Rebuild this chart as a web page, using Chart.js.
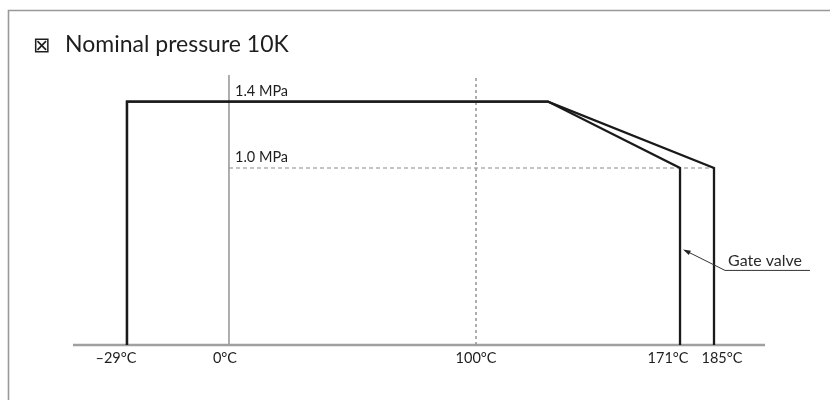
<!DOCTYPE html>
<html>
<head>
<meta charset="utf-8">
<script src="https://cdn.jsdelivr.net/npm/chart.js@4/dist/chart.umd.min.js"></script>
<style>
  html, body { margin: 0; padding: 0; background: #fff; }
  #wrap { width: 830px; height: 400px; position: relative; }
</style>
</head>
<body>
<div id="wrap"><canvas id="c" width="830" height="400"></canvas></div>
<script>
// ---- data ----
const titleSymbol = '\u22A0';
const titleText = 'Nominal pressure 10K';
const tickTemps = [-29, 0, 100, 171, 185];
const tickLabels = ['\u201329\u00B0C', '0\u00B0C', '100\u00B0C', '171\u00B0C', '185\u00B0C'];
const pressureLevels = [1.4, 1.0];
const pressureLabels = ['1.4 MPa', '1.0 MPa'];
// Gate valve rating (ends at 171 °C)
const gateTemps = [-29, -29, 120, 171, 171];
const gatePressure = [0, 1.4, 1.4, 1.0, 0];
// other valve rating (ends at 185 °C)
const otherTemps = [-29, -29, 120, 185, 185];
const otherPressure = [0, 1.4, 1.4, 1.0, 0];
const gateLabel = 'Gate valve';
const gateArrowPressure = 0.54;

// ---- schematic (piecewise-linear) scale ----
class PiecewiseScale extends Chart.LinearScale {
  _toDecimal(v) {
    const a = this.options.anchors;
    if (v <= a[0][0]) return a[0][1] + (v - a[0][0]) * (a[1][1] - a[0][1]) / (a[1][0] - a[0][0]);
    for (let i = 1; i < a.length; i++) {
      if (v <= a[i][0] || i === a.length - 1) {
        const [v0, f0] = a[i - 1], [v1, f1] = a[i];
        return f0 + (v - v0) * (f1 - f0) / (v1 - v0);
      }
    }
  }
  getPixelForValue(value) {
    return this.getPixelForDecimal(this._toDecimal(value));
  }
  getValueForPixel(pixel) {
    const d = this.getDecimalForPixel(pixel);
    const a = this.options.anchors;
    for (let i = 1; i < a.length; i++) {
      if (d <= a[i][1] || i === a.length - 1) {
        const [v0, f0] = a[i - 1], [v1, f1] = a[i];
        return v0 + (d - f0) * (v1 - v0) / (f1 - f0);
      }
    }
  }
}
PiecewiseScale.id = 'piecewise';
PiecewiseScale.defaults = Chart.LinearScale.defaults;
Chart.register(PiecewiseScale);

const toPts = (xs, ys) => xs.map((x, i) => ({ x, y: ys[i] }));
const X_MIN = -44, X_MAX = 205, Y_MIN = 0, Y_MAX = 1.56;

const BLACK = '#1a1a1a';
const GREY = '#9a9a9a';

const decorPlugin = {
  id: 'decor',
  beforeDatasetsDraw(chart) {
    const ctx = chart.ctx, xs = chart.scales.x, ys = chart.scales.y;
    const ca = chart.chartArea;
    ctx.save();
    // outer frame (top + left)
    ctx.strokeStyle = '#999';
    ctx.lineWidth = 1.6;
    ctx.beginPath();
    ctx.moveTo(8.5, 400);
    ctx.lineTo(8.5, 10.5);
    ctx.lineTo(830, 10.5);
    ctx.stroke();
    // title
    ctx.fillStyle = '#1e1e1e';
    ctx.textBaseline = 'alphabetic';
    ctx.textAlign = 'left';
    ctx.font = '21px "DejaVu Sans"';
    ctx.fillText(titleSymbol, 33, 52);
    ctx.font = '23px Lato';
    ctx.fillText(titleText, 65, 52);
    // horizontal axis line
    const y0 = ys.getPixelForValue(0);
    ctx.strokeStyle = '#a0a0a0';
    ctx.lineWidth = 2.5;
    ctx.beginPath();
    ctx.moveTo(ca.left, y0);
    ctx.lineTo(ca.right, y0);
    ctx.stroke();
    ctx.restore();
  },
  afterDraw(chart) {
    const ctx = chart.ctx, xs = chart.scales.x, ys = chart.scales.y;
    ctx.save();
    ctx.fillStyle = '#1e1e1e';
    // tick labels
    const labelShift = { 171: -12, 185: 8, '-29': -11, 0: -4 };
    ctx.font = '14.5px Lato';
    ctx.textAlign = 'center';
    ctx.textBaseline = 'alphabetic';
    const y0 = ys.getPixelForValue(0);
    tickTemps.forEach((t, i) => {
      ctx.fillText(tickLabels[i], xs.getPixelForValue(t) + (labelShift[t] || 0), y0 + 18);
    });
    // pressure labels
    ctx.textAlign = 'left';
    ctx.font = '14.5px Lato';
    const xz = xs.getPixelForValue(0);
    pressureLevels.forEach((p, i) => {
      ctx.fillText(pressureLabels[i], xz + 6, ys.getPixelForValue(p) - 6);
    });
    // gate valve callout
    const tipX = xs.getPixelForValue(gateTemps[gateTemps.length - 1]) + 3;
    const tipY = ys.getPixelForValue(gateArrowPressure);
    const ex = tipX + 42, ey = tipY + 21;
    ctx.strokeStyle = '#333';
    ctx.lineWidth = 1;
    ctx.beginPath();
    ctx.moveTo(ex + 85, ey);
    ctx.lineTo(ex, ey);
    ctx.lineTo(tipX + 6, tipY + 3);
    ctx.stroke();
    // arrow head
    const ang = Math.atan2(tipY - ey, tipX - ex);
    ctx.fillStyle = '#222';
    ctx.beginPath();
    ctx.moveTo(tipX, tipY);
    ctx.lineTo(tipX - 8 * Math.cos(ang - 0.3), tipY - 8 * Math.sin(ang - 0.3));
    ctx.lineTo(tipX - 8 * Math.cos(ang + 0.3), tipY - 8 * Math.sin(ang + 0.3));
    ctx.closePath();
    ctx.fill();
    ctx.font = '16px Lato';
    ctx.fillStyle = '#2a2a2a';
    ctx.fillText(gateLabel, ex + 3, ey - 4);
    ctx.restore();
  }
};

new Chart(document.getElementById('c'), {
  type: 'line',
  data: {
    datasets: [
      { label: 'Gate valve', data: toPts(gateTemps, gatePressure), borderColor: BLACK, borderWidth: 2.3, borderJoinStyle: 'miter', order: 1 },
      { label: 'Other', data: toPts(otherTemps, otherPressure), borderColor: BLACK, borderWidth: 2.3, borderJoinStyle: 'miter', order: 1 },
      { label: '0 °C', data: toPts([0, 0], [Y_MIN, Y_MAX]), borderColor: GREY, borderWidth: 1.6, order: 3 },
      { label: '100 °C', data: toPts([100, 100], [Y_MIN, Y_MAX]), borderColor: GREY, borderWidth: 1.6, borderDash: [3, 3], order: 3 },
      { label: '1.0 MPa', data: toPts([0, otherTemps[3]], [pressureLevels[1], pressureLevels[1]]), borderColor: '#888', borderWidth: 1.2, borderDash: [4, 3], order: 3 }
    ]
  },
  options: {
    responsive: false,
    animation: false,
    parsing: true,
    layout: { padding: { left: 73, right: 65, top: 75, bottom: 55 } },
    elements: { point: { radius: 0 }, line: { tension: 0, fill: false } },
    plugins: { legend: { display: false }, tooltip: { enabled: false }, title: { display: false } },
    scales: {
      x: { type: 'piecewise', display: false, min: X_MIN, max: X_MAX,
           anchors: [[X_MIN, 0], [-29, 0.078], [0, 0.2254], [100, 0.5824], [120, 0.6864], [171, 0.8772], [185, 0.9263], [X_MAX, 1]] },
      y: { type: 'piecewise', display: false, min: Y_MIN, max: Y_MAX,
           anchors: [[Y_MIN, 0], [1.0, 0.6556], [Y_MAX, 1]] }
    }
  },
  plugins: [decorPlugin]
});
</script>
</body>
</html>
